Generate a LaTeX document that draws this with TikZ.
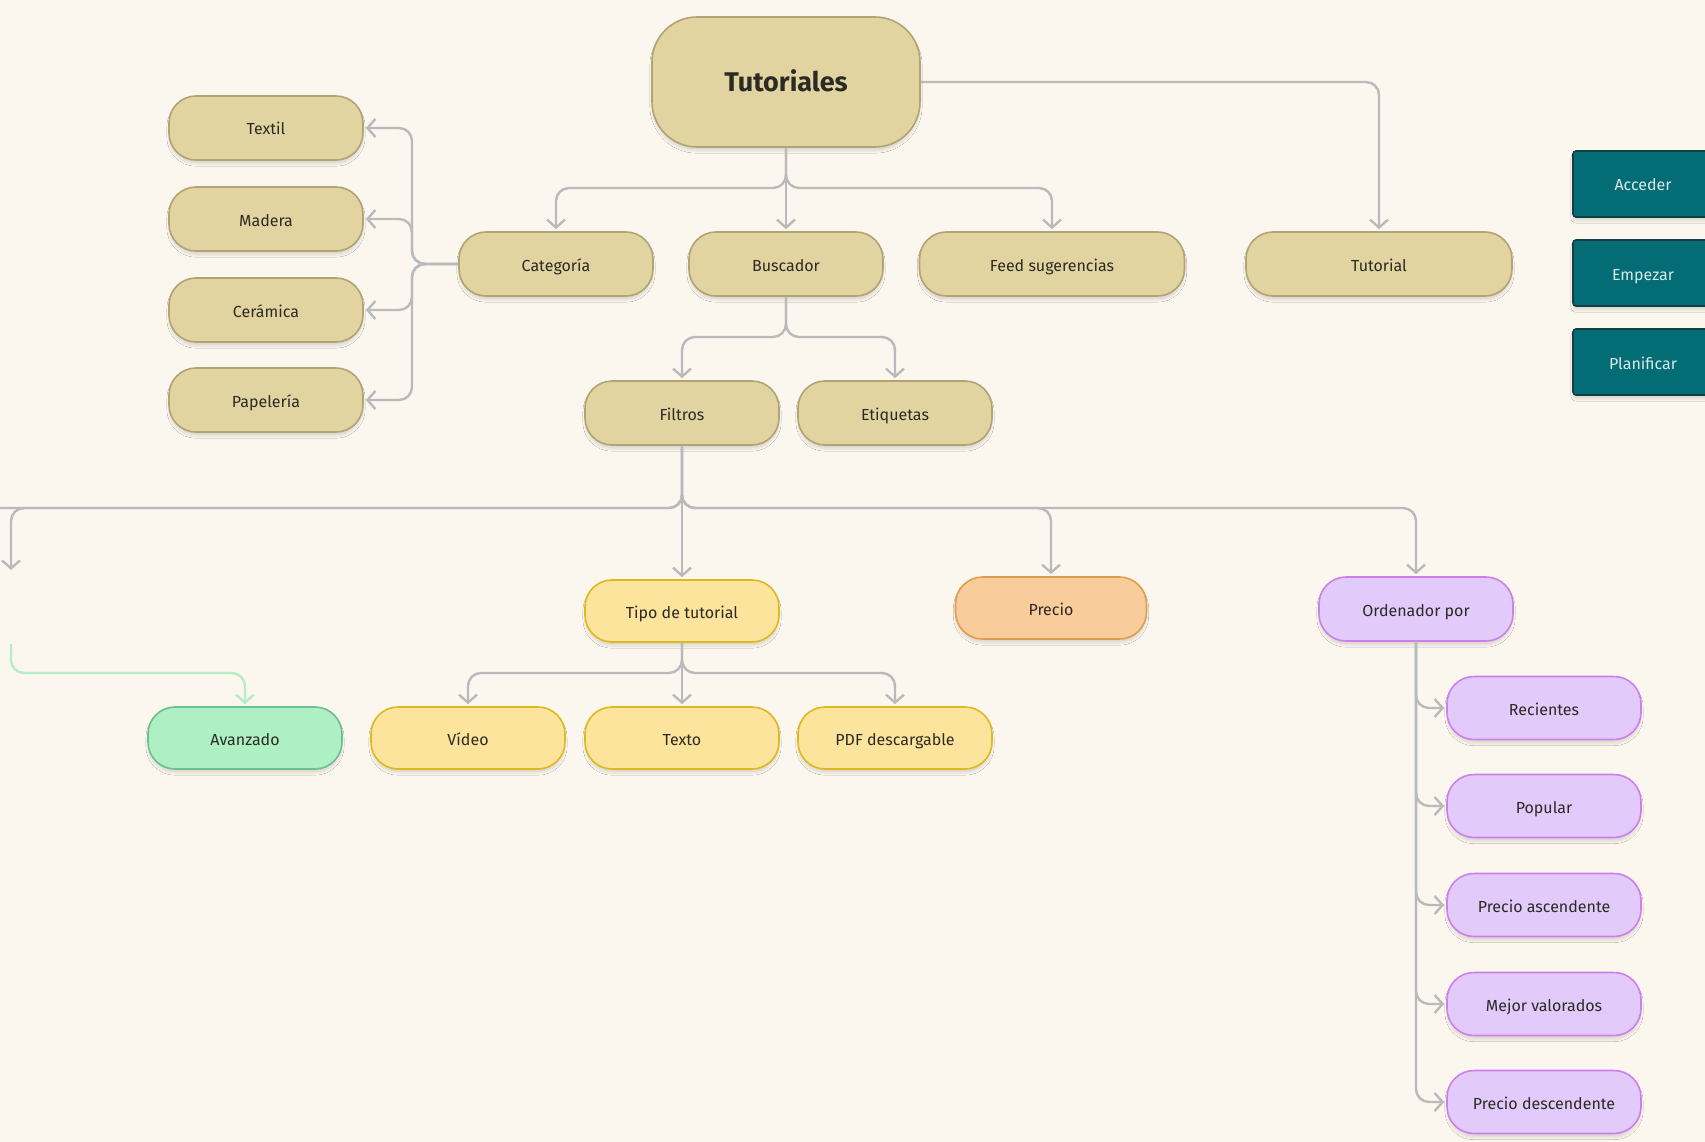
\documentclass[tikz,border=0pt]{standalone}
\usepackage{fontspec}
\setmainfont{Fira Sans}
\usetikzlibrary{arrows.meta,shadows.blur}

\definecolor{fondo}{HTML}{FCF7EE}
\definecolor{arena}{HTML}{E1D4A0}
\definecolor{arenaborde}{HTML}{B0A374}
\definecolor{amarillo}{HTML}{FDE49C}
\definecolor{amarilloborde}{HTML}{DDB91E}
\definecolor{naranja}{HTML}{F8CC9B}
\definecolor{naranjaborde}{HTML}{DE9F4C}
\definecolor{lila}{HTML}{E2CAFA}
\definecolor{lilaborde}{HTML}{CD7FEE}
\definecolor{verde}{HTML}{AEEFC4}
\definecolor{verdeborde}{HTML}{6DBF8C}
\definecolor{petroleo}{HTML}{036C74}
\definecolor{petroleoborde}{HTML}{123F45}
\definecolor{linea}{HTML}{BABABD}
\definecolor{lineaverde}{HTML}{B4EDC6}
\definecolor{texto}{HTML}{2B2A24}

\tikzset{
  caja/.style={draw, line width=1.6pt, rounded corners=27pt, minimum width=194pt,
    minimum height=64pt, text=texto, text height=16pt, text depth=2pt,
    font=\fontsize{16}{18}\selectfont,
    blur shadow={shadow blur steps=8, shadow xshift=0pt, shadow yshift=-4pt, shadow opacity=12}},
  cajaarena/.style={caja, fill=arena, draw=arenaborde},
  cajaamarilla/.style={caja, fill=amarillo, draw=amarilloborde, minimum height=62pt},
  cajalila/.style={caja, fill=lila, draw=lilaborde, minimum height=63pt},
  boton/.style={draw=petroleoborde, fill=petroleo, line width=1.6pt, rounded corners=3pt,
    minimum width=140pt, minimum height=66pt, text=white!85!petroleo,
    text height=16pt, text depth=2pt, font=\fontsize{16}{18}\selectfont,
    blur shadow={shadow blur steps=8, shadow xshift=0pt, shadow yshift=-4pt, shadow opacity=12}},
  conector/.style={draw=linea, line width=2.4pt, rounded corners=13pt, shorten >=2pt,
    -{Straight Barb[length=8pt,width=18pt]}},
  conectorverde/.style={conector, draw=lineaverde}
}

\begin{document}
\begin{tikzpicture}[x=1pt, y=-1pt]
  \fill[fondo] (0,0) rectangle (1705,1142);
  \useasboundingbox (0,0) rectangle (1705,1142);

  % nivel superior
  \node[cajaarena, minimum width=268pt, minimum height=130pt, rounded corners=45pt,
    text height=22pt, font=\fontsize{27}{30}\selectfont\bfseries] (tutoriales) at (786,82) {Tutoriales};
  \node[cajaarena] (categoria) at (556,264) {Categoría};
  \node[cajaarena] (buscador) at (786,264) {Buscador};
  \node[cajaarena, minimum width=265pt] (feed) at (1052,264) {Feed sugerencias};
  \node[cajaarena, minimum width=266pt] (tutorial) at (1379,264) {Tutorial};

  % categorias
  \node[cajaarena] (textil) at (266,128) {Textil};
  \node[cajaarena] (madera) at (266,219) {Madera};
  \node[cajaarena] (ceramica) at (266,310) {Cerámica};
  \node[cajaarena] (papeleria) at (266,400) {Papelería};

  % buscador
  \node[cajaarena] (filtros) at (682,413) {Filtros};
  \node[cajaarena] (etiquetas) at (895,413) {Etiquetas};

  % filtros
  \node[cajaamarilla] (tipo) at (682,611) {Tipo de tutorial};
  \node[caja, fill=naranja, draw=naranjaborde, minimum width=191pt, minimum height=62pt] (precio) at (1051,608) {Precio};
  \node[cajalila, minimum height=64pt] (orden) at (1416,609) {Ordenador por};

  \node[caja, fill=verde, draw=verdeborde, minimum height=62pt] (avanzado) at (245,738) {Avanzado};
  \node[cajaamarilla] (video) at (468,738) {Vídeo};
  \node[cajaamarilla] (texto) at (682,738) {Texto};
  \node[cajaamarilla] (pdf) at (895,738) {PDF descargable};

  \node[cajalila] (recientes) at (1544,708) {Recientes};
  \node[cajalila] (popular) at (1544,806) {Popular};
  \node[cajalila] (ascendente) at (1544,905) {Precio ascendente};
  \node[cajalila] (valorados) at (1544,1004) {Mejor valorados};
  \node[cajalila] (descendente) at (1544,1102) {Precio descendente};

  % botones
  \node[boton] (acceder) at (1643,184) {Acceder};
  \node[boton] (empezar) at (1643,273) {Empezar};
  \node[boton] (planificar) at (1643,362) {Planificar};

  \coordinate (nudoTut) at (786,188);
  \coordinate (nudoCat) at (412,264);
  \coordinate (nudoBus) at (786,337);
  \coordinate (nudoFil) at (682,508);
  \coordinate (borde) at (-5,508);
  \coordinate (salida) at (11,572);
  \coordinate (entrada) at (11,644);
  \coordinate (nudoTipo) at (682,673);

  \draw[conector] (tutoriales.south) -- (nudoTut) -| (categoria.north);
  \draw[conector] (tutoriales.south) -- (buscador.north);
  \draw[conector] (tutoriales.south) -- (nudoTut) -| (feed.north);
  \draw[conector] (tutoriales.east) -| (tutorial.north);

  \draw[conector] (categoria.west) -- (nudoCat) |- (textil.east);
  \draw[conector] (categoria.west) -- (nudoCat) |- (madera.east);
  \draw[conector] (categoria.west) -- (nudoCat) |- (ceramica.east);
  \draw[conector] (categoria.west) -- (nudoCat) |- (papeleria.east);

  \draw[conector] (buscador.south) -- (nudoBus) -| (filtros.north);
  \draw[conector] (buscador.south) -- (nudoBus) -| (etiquetas.north);

  \draw[conector, -] (filtros.south) -- (nudoFil) -- (borde);
  \draw[conector] (filtros.south) -- (nudoFil) -| (salida);
  \draw[conector] (filtros.south) -- (tipo.north);
  \draw[conector] (filtros.south) -- (nudoFil) -| (precio.north);
  \draw[conector] (filtros.south) -- (nudoFil) -| (orden.north);

  \draw[conectorverde] (entrada) -- ++(0,29) -| (avanzado.north);

  \draw[conector] (tipo.south) -- (nudoTipo) -| (video.north);
  \draw[conector] (tipo.south) -- (texto.north);
  \draw[conector] (tipo.south) -- (nudoTipo) -| (pdf.north);

  \foreach \hijo in {recientes,popular,ascendente,valorados,descendente}
    \draw[conector] (orden.south) |- (\hijo.west);
\end{tikzpicture}
\end{document}
